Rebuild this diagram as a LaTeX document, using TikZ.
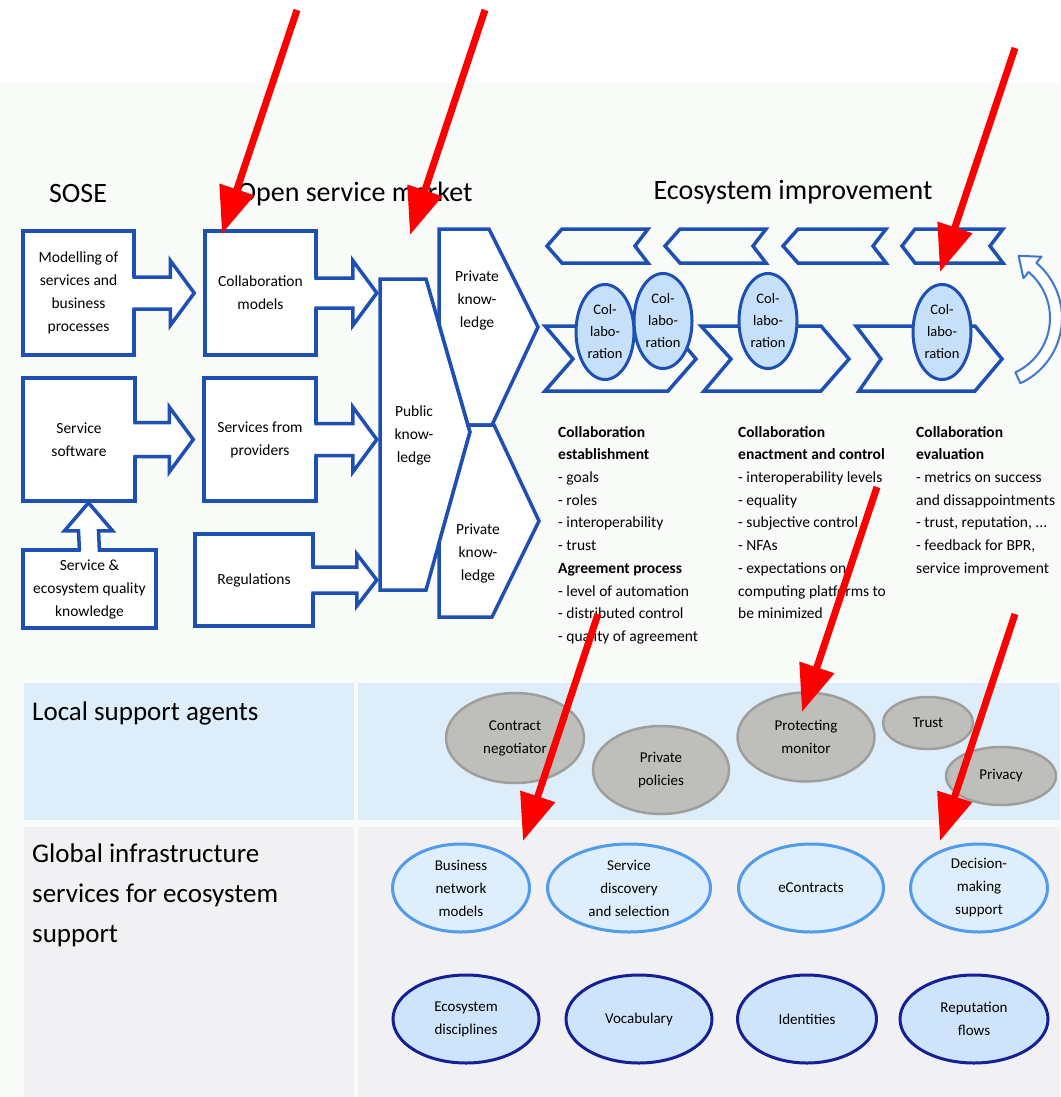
\documentclass[tikz,border=0pt]{standalone}
\usepackage{fontspec}
\setmainfont{Carlito}
\usetikzlibrary{shapes.geometric,arrows.meta,calc}

\definecolor{boxblue}{RGB}{30,80,180}
\definecolor{collabfill}{RGB}{197,224,248}
\definecolor{agentfill}{RGB}{190,190,186}
\definecolor{agentedge}{RGB}{158,158,156}
\definecolor{infraedgeA}{RGB}{80,155,235}
\definecolor{infrafillA}{RGB}{222,238,252}
\definecolor{infraedgeB}{RGB}{22,32,150}
\definecolor{infrafillB}{RGB}{206,228,250}
\definecolor{paper}{RGB}{249,251,249}
\definecolor{localband}{RGB}{221,238,250}
\definecolor{globalband}{RGB}{241,241,243}
\definecolor{arcblue}{RGB}{60,120,210}

\newcommand\fsize[2]{\fontsize{#1}{#2}\selectfont}

% block arrow pointing right: from node, to node, shaft half height,
% head half height, head length, gap before the target
\newcommand\rblock[6]{%
  \coordinate (ra) at (#1.east);
  \coordinate (rt) at ($(#2.west |- ra)+(-#6,0)$);
  \coordinate (rb) at ($(rt)+(-#5,0)$);
  \fill[white] ($(ra)+(-3.6,-#3)$) -- ($(rb)+(0,-#3)$) -- ($(rb)+(0,-#4)$) -- (rt)
     -- ($(rb)+(0,#4)$) -- ($(rb)+(0,#3)$) -- ($(ra)+(-3.6,#3)$) -- cycle;
  \draw[blueline] ($(ra)+(-3.5,-#3)$) -- ($(rb)+(0,-#3)$) -- ($(rb)+(0,-#4)$) -- (rt)
     -- ($(rb)+(0,#4)$) -- ($(rb)+(0,#3)$) -- ($(ra)+(-3.5,#3)$);
}

\begin{document}
\begin{tikzpicture}[x=1pt,y=-1pt,
  blueline/.style={draw=boxblue,line width=3.5pt,line join=miter},
  procbox/.style={blueline,fill=white,rectangle,inner sep=0pt,align=center,font=\fsize{15.5}{23}},
  chevline/.style={draw=boxblue,line width=3.5pt},
  knowtext/.style={inner sep=0pt,align=center,font=\fsize{15.5}{23}},
  collab/.style={ellipse,draw=boxblue,line width=3pt,fill=collabfill,inner sep=0pt,
    minimum width=58pt,minimum height=95pt,align=center,font=\fsize{14.5}{22}},
  agent/.style={ellipse,draw=agentedge,line width=2.5pt,fill=agentfill,inner sep=0pt,
    align=center,font=\fsize{15}{23}},
  infraA/.style={ellipse,draw=infraedgeA,line width=3pt,fill=infrafillA,inner sep=0pt,
    align=center,font=\fsize{15}{23},minimum height=88pt},
  infraB/.style={ellipse,draw=infraedgeB,line width=3pt,fill=infrafillB,inner sep=0pt,
    align=center,font=\fsize{15}{23},minimum height=88pt},
  heading/.style={font=\fsize{28}{34},inner sep=0pt},
  itemtext/.style={font=\fsize{15.5}{22.7},inner sep=0pt,align=left,anchor=north west},
  redarrow/.style={draw=red,line width=7pt,-{Triangle[length=47pt,width=35pt]}},
  cycarrow/.style={draw=arcblue,line width=2pt,fill=white,line join=round},
]
\useasboundingbox (0,0) rectangle (1060,1097);

% backgrounds and bands
\fill[paper] (0,83) rectangle (1060,1097);
\fill[localband] (24,683) rectangle (354,820);
\fill[localband] (358,683) rectangle (1060,820);
\fill[globalband] (24,827) rectangle (354,1097);
\fill[globalband] (358,827) rectangle (1060,1097);

% column headings
\node[heading] (hsose) at (78,194) {SOSE};
\node[heading] (hmarket) at (355,194) {Open service market};
\node[heading] (hecoimp) at (793,192) {Ecosystem improvement};

% process boxes
\node[procbox,minimum width=111pt,minimum height=124pt] (m1) at (78.5,293) {Modelling of\\services and\\business\\processes};
\node[procbox,minimum width=111pt,minimum height=124pt] (cm) at (260.5,293) {Collaboration\\models};
\node[procbox,minimum width=112pt,minimum height=123pt] (ss) at (79,439.5) {Service\\software};
\node[procbox,minimum width=112pt,minimum height=123pt] (sp) at (260,439.5) {Services from\\providers};
\node[procbox,minimum width=133pt,minimum height=78pt] (sq) at (89.5,589) {Service \&\\ecosystem quality\\knowledge};
\node[procbox,minimum width=118pt,minimum height=92pt] (rg) at (254,580) {Regulations};

% public knowledge frame (anchor box)
\node[inner sep=0pt,minimum width=46pt,minimum height=311pt] (pk) at (403,434.5) {};

% block arrows
\rblock{m1}{cm}{16}{32.5}{24}{9}
\rblock{ss}{sp}{17}{32.5}{24}{9}
\rblock{cm}{pk}{15}{32.5}{24}{3}
\rblock{sp}{pk}{16}{32.5}{24}{3}
\rblock{rg}{pk}{13}{26}{20}{3}

% upward block arrow into the service software box
\coordinate (ua) at (sq.north);
\coordinate (ut) at ($(ss.south -| ua)+(-1,0)$);
\coordinate (ub) at ($(ut)+(0,28)$);
\fill[white] ($(ua)+(-10,3.6)$) -- ($(ub)+(-10,0)$) -- ($(ub)+(-24,0)$) -- (ut)
   -- ($(ub)+(24,0)$) -- ($(ub)+(10,0)$) -- ($(ua)+(10,3.6)$) -- cycle;
\draw[blueline] ($(ua)+(-10,3.5)$) -- ($(ub)+(-10,0)$) -- ($(ub)+(-24,0)$) -- (ut)
   -- ($(ub)+(24,0)$) -- ($(ub)+(10,0)$) -- ($(ua)+(10,3.5)$);

% public and private knowledge
\draw[blueline,fill=white] (380,279) -- (426,279) -- (470,432) -- (426,590) -- (380,590) -- cycle;
\draw[blueline,fill=white] (439,229) -- (489,229) -- (538,327) -- (492,425) -- (468,425) -- (439,324) -- cycle;
\draw[blueline,fill=white] (468,425) -- (494,425) -- (539,521) -- (492,617) -- (439,617) -- (439,543) -- (470,432) -- cycle;
\node[knowtext] (pktext) at (414,435) {Public\\know-\\ledge};
\node[knowtext] (pv1) at (477,300) {Private\\know-\\ledge};
\node[knowtext] (pv2) at (478,553) {Private\\know-\\ledge};

% ecosystem improvement cycle: backward chevrons
\draw[chevline] (547,246) -- (562,229) -- (648,229) -- (635,246) -- (648,263) -- (562,263) -- cycle;
\draw[chevline] (665,246) -- (680,229) -- (766,229) -- (753,246) -- (766,263) -- (680,263) -- cycle;
\draw[chevline] (783,246) -- (798,229) -- (886,229) -- (873,246) -- (886,263) -- (798,263) -- cycle;
\draw[chevline] (902,246) -- (915,229) -- (1003,229) -- (990,246) -- (1003,263) -- (915,263) -- cycle;

% forward chevrons
\draw[chevline] (545,326) -- (668,326) -- (696,359) -- (668,391) -- (545,391) -- (573,359) -- cycle;
\draw[chevline] (701,326) -- (821,326) -- (849,359) -- (821,391) -- (704,391) -- (731,359) -- cycle;
\draw[chevline] (856,326) -- (975,326) -- (1002,359) -- (975,391) -- (859,391) -- (881,359) -- cycle;

% collaborations
\node[collab] (co2) at (663,321) {Col-\\labo-\\ration};
\node[collab] (co1) at (605,332) {Col-\\labo-\\ration};
\node[collab] (co3) at (768,321) {Col-\\labo-\\ration};
\node[collab] (co4) at (942,332) {Col-\\labo-\\ration};

% circular arrow closing the cycle
\draw[cycarrow] plot[domain=65:-50,samples=40] ({990+72*cos(\x)},{318+72*sin(\x)})
  -- ({990+80*cos(-50)},{318+80*sin(-50)}) -- (1018.6,255.8)
  -- ({990+52*cos(-50)},{318+52*sin(-50)})
  -- plot[domain=-50:65,samples=40] ({990+60*cos(\x)},{318+60*sin(\x)}) -- cycle;

% phase descriptions
\node[itemtext] (est) at (558,426) {\textbf{Collaboration}\\\textbf{establishment}\\- goals\\- roles\\- interoperability\\- trust\\\textbf{Agreement process}\\- level of automation\\- distributed control\\- quality of agreement};
\node[itemtext] (enact) at (738,426) {\textbf{Collaboration}\\\textbf{enactment and control}\\- interoperability levels\\- equality\\- subjective control\\- NFAs\\- expectations on\\computing platforms to\\be minimized};
\node[itemtext] (evalu) at (916,426) {\textbf{Collaboration}\\\textbf{evaluation}\\- metrics on success\\and dissappointments\\- trust, reputation, ...\\- feedback for BPR,\\service improvement};

% band labels
\node[font=\fsize{27}{40},inner sep=0pt,anchor=base west] (lsa) at (32,720) {Local support agents};
\node[font=\fsize{27}{40},inner sep=0pt,align=left,anchor=north west] (gis) at (32,844) {Global infrastructure\\services for ecosystem\\support};

% local support agents
\node[agent,minimum width=138pt,minimum height=90pt] (ag1) at (515,738) {Contract\\negotiator};
\node[agent,minimum width=136pt,minimum height=88pt] (ag2) at (661,770) {Private\\policies};
\node[agent,minimum width=137pt,minimum height=89pt] (ag3) at (806,737) {Protecting\\monitor};
\node[agent,minimum width=90pt,minimum height=52pt] (ag4) at (928,723) {Trust};
\node[agent,minimum width=110pt,minimum height=58pt] (ag5) at (1001,776) {Privacy};

% global infrastructure services
\node[infraA,minimum width=137pt] (gs1) at (461,888) {Business\\network\\models};
\node[infraA,minimum width=163pt] (gs2) at (629,888) {Service\\discovery\\and selection};
\node[infraA,minimum width=145pt] (gs3) at (811,888) {eContracts};
\node[infraA,minimum width=137pt] (gs4) at (979,888) {Decision-\\making\\support};
\node[infraB,minimum width=146pt] (gs5) at (466,1019) {Ecosystem\\disciplines};
\node[infraB,minimum width=146pt] (gs6) at (639,1019) {Vocabulary};
\node[infraB,minimum width=139pt] (gs7) at (807,1019) {Identities};
\node[infraB,minimum width=148pt] (gs8) at (974,1019) {Reputation\\flows};

% red pointer arrows
\coordinate (r1s) at (297,10);   \coordinate (r1e) at (222,234);
\coordinate (r2s) at (485,10);   \coordinate (r2e) at (410,235);
\coordinate (r3s) at (1015,48);  \coordinate (r3e) at (940,272);
\coordinate (r4s) at (877,487);  \coordinate (r4e) at (802,712);
\coordinate (r5s) at (598,614);  \coordinate (r5e) at (523,841);
\coordinate (r6s) at (1015,614); \coordinate (r6e) at (940,841);
\draw[redarrow] (r1s) -- (r1e);
\draw[redarrow] (r2s) -- (r2e);
\draw[redarrow] (r3s) -- (r3e);
\draw[redarrow] (r4s) -- (r4e);
\draw[redarrow] (r5s) -- (r5e);
\draw[redarrow] (r6s) -- (r6e);
\end{tikzpicture}
\end{document}
